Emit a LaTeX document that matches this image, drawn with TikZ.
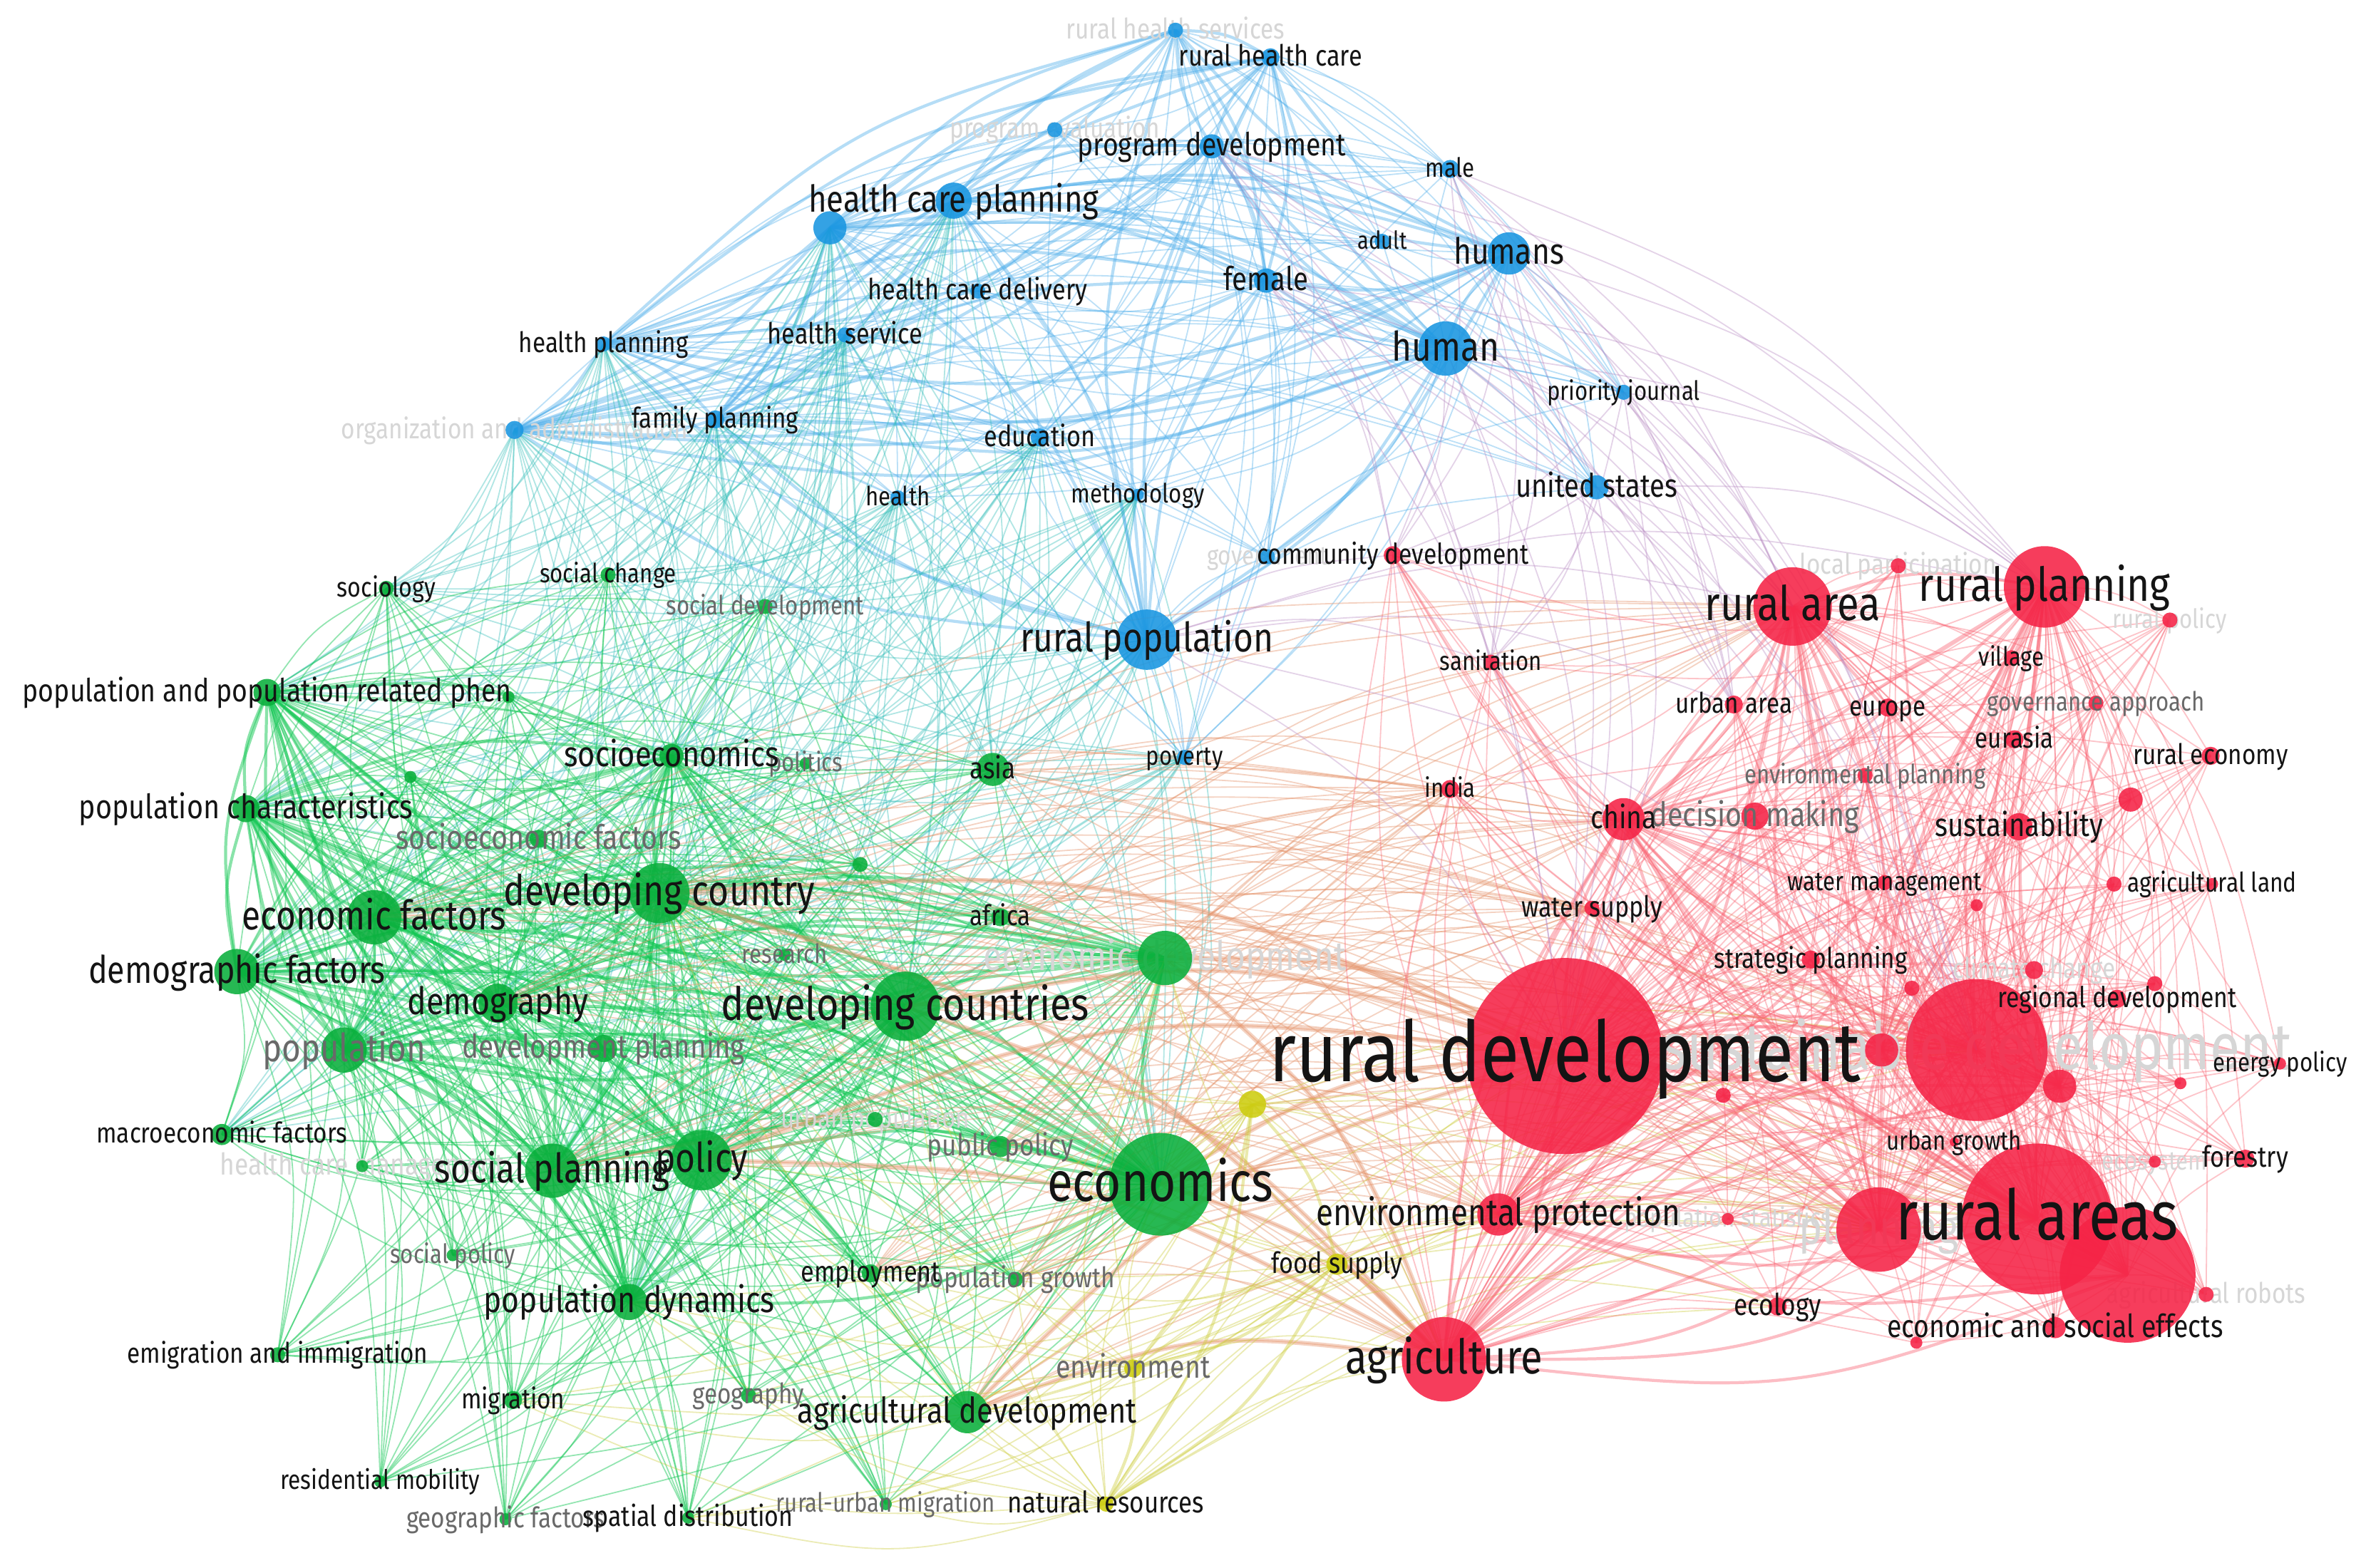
\documentclass[tikz,border=0pt]{standalone}
\usepackage{fontspec}
\setmainfont{Fira Sans}[FakeStretch=0.84]
\usetikzlibrary{calc}
\pgfdeclarelayer{bg}
\pgfdeclarelayer{edges}
\pgfdeclarelayer{flab}
\pgfdeclarelayer{labels}
\pgfsetlayers{bg,edges,flab,main,labels}
\definecolor{cb}{RGB}{25,150,225}
\definecolor{cg}{RGB}{10,175,60}
\definecolor{cy}{RGB}{205,205,15}
\definecolor{cr}{RGB}{245,35,70}
\definecolor{ebc}{RGB}{80,175,235}
\definecolor{egc}{RGB}{20,200,85}
\definecolor{etc}{RGB}{50,190,185}
\definecolor{eoc}{RGB}{230,150,110}
\definecolor{eyc}{RGB}{205,205,60}
\definecolor{erc}{RGB}{250,100,115}
\definecolor{epc}{RGB}{185,140,195}
\definecolor{lk}{RGB}{20,20,20}
\definecolor{lg}{RGB}{105,105,105}
\definecolor{lf}{RGB}{214,214,214}
\tikzset{
  kw/.style={circle,draw=none,inner sep=0pt,fill opacity=0.88},
  lab/.style={inner sep=0pt,anchor=center},
  thin/.style={line width=0.85pt,draw opacity=0.38},
  thick/.style={line width=2pt,draw opacity=0.42},
  eb/.style={thin,draw=ebc}, ebk/.style={thick,draw=ebc},
  eg/.style={thin,draw=egc,draw opacity=0.46}, egk/.style={thick,draw=egc,draw opacity=0.5},
  et/.style={thin,draw=etc},
  eo/.style={thin,draw=eoc,draw opacity=0.42}, eok/.style={thick,draw=eoc,line width=3pt},
  ey/.style={thin,draw=eyc}, eyk/.style={thick,draw=eyc},
  er/.style={thin,draw=erc}, erk/.style={thick,draw=erc},
  ep/.style={thin,draw=epc}
}
\newcommand\kw[5]{\node[kw,fill=#5,minimum size={2*#4}] (#1) at (#2,#3) {};}
\newcommand\lb[4]{\pgfmathsetmacro\fs{#2*1.17}\node[lab,text=#3,font={\fontsize{\fs}{\fs}\selectfont},text height={0.75*\fs},text depth={0.15*\fs}] (#1-l) at (#1.center) {#4};}
\newcommand\cedge[3]{\draw[#1] (#2.center) .. controls ($(#2.center)!0.5!(#3.center)!0.24!90:(#3.center)$) .. (#3.center);}
\newcommand\hubs[3]{\foreach \a in {#2}{\foreach \b in {#3}{\cedge{#1}{\a}{\b}}}}
\newcommand\pairs[2]{\foreach \a [count=\i] in {#2}{\foreach \b [count=\j] in {#2}{\ifnum\j>\i\relax\cedge{#1}{\a}{\b}\fi}}}
\begin{document}
\begin{tikzpicture}[x=1pt,y=-1pt]
\begin{pgfonlayer}{bg}
\fill[white] (0,0) rectangle (1568,1039);
\end{pgfonlayer}
\useasboundingbox (0,0) rectangle (1568,1039);
% ---------- blue cluster
\kw{rhs}{779}{20}{5}{cb}
\kw{rhc}{842}{38}{6}{cb}
\kw{pev}{699}{86}{5}{cb}
\kw{pdv}{803}{97}{8}{cb}
\kw{male}{961}{112}{6}{cb}
\kw{hcp}{632}{133}{12}{cb}
\kw{bx1}{550}{151}{11}{cb}
\kw{adult}{916}{160}{5}{cb}
\kw{humans}{1000}{168}{14}{cb}
\kw{female}{839}{186}{8}{cb}
\kw{hcd}{648}{193}{5}{cb}
\kw{hpl}{400}{228}{5}{cb}
\kw{hsv}{560}{222}{5}{cb}
\kw{human}{958}{231}{18}{cb}
\kw{prj}{1076}{260}{5}{cb}
\kw{org}{341}{285}{6}{cb}
\kw{fpl}{474}{278}{6}{cb}
\kw{edu}{689}{290}{6}{cb}
\kw{hlth}{595}{330}{5}{cb}
\kw{meth}{754}{328}{4}{cb}
\kw{us}{1058}{323}{8}{cb}
\kw{gov}{840}{369}{5}{cb}
\kw{rpop}{760}{424}{20}{cb}
\kw{pov}{785}{502}{5}{cb}
% ---------- green cluster
\kw{soc}{256}{390}{5}{cg}
\kw{sch}{403}{381}{5}{cg}
\kw{sdv}{507}{402}{5}{cg}
\kw{pprp}{177}{459}{9}{cg}
\kw{gx1}{337}{462}{4}{cg}
\kw{secs}{445}{501}{8}{cg}
\kw{polt}{534}{506}{4}{cg}
\kw{asia}{658}{510}{11}{cg}
\kw{gx2}{272}{515}{4}{cg}
\kw{pch}{163}{536}{9}{cg}
\kw{sef}{357}{556}{6}{cg}
\kw{gx3}{570}{573}{5}{cg}
\kw{dcy}{437}{592}{20}{cg}
\kw{ecf}{248}{608}{18}{cg}
\kw{afr}{663}{608}{6}{cg}
\kw{res}{520}{633}{4}{cg}
\kw{edv}{772}{635}{18}{cg}
\kw{dmf}{157}{644}{15}{cg}
\kw{dmg}{330}{665}{13}{cg}
\kw{dcs}{600}{667}{23}{cg}
\kw{pop}{228}{696}{15}{cg}
\kw{dpl}{400}{695}{9}{cg}
\kw{upop}{580}{742}{5}{cg}
\kw{pubp}{663}{760}{7}{cg}
\kw{mef}{147}{752}{7}{cg}
\kw{hcm}{240}{773}{4}{cg}
\kw{spl}{366}{776}{18}{cg}
\kw{pol}{465}{769}{20}{cg}
\kw{eco}{769}{785}{34}{cg}
\kw{spol}{300}{832}{4}{cg}
\kw{emp}{577}{844}{6}{cg}
\kw{pgr}{673}{848}{5}{cg}
\kw{pdyn}{417}{863}{12}{cg}
\kw{emig}{184}{898}{5}{cg}
\kw{mig}{340}{928}{6}{cg}
\kw{geo}{496}{925}{5}{cg}
\kw{agd}{641}{936}{14}{cg}
\kw{resm}{252}{982}{4}{cg}
\kw{gfac}{335}{1007}{4}{cg}
\kw{spd}{456}{1006}{4}{cg}
\kw{rum}{587}{997}{4}{cg}
% ---------- yellow cluster
\kw{yx1}{830}{732}{9}{cy}
\kw{food}{886}{838}{7}{cy}
\kw{env}{751}{907}{6}{cy}
\kw{natr}{733}{997}{5}{cy}
% ---------- red cluster
\kw{lpar}{1258}{375}{5}{cr}
\kw{rarea}{1188}{402}{26}{cr}
\kw{rplan}{1355}{389}{27}{cr}
\kw{rpol}{1438}{411}{5}{cr}
\kw{cdv}{923}{368}{6}{cr}
\kw{san}{988}{439}{5}{cr}
\kw{vil}{1333}{436}{5}{cr}
\kw{uarea}{1149}{467}{6}{cr}
\kw{eur}{1251}{469}{6}{cr}
\kw{gva}{1389}{466}{5}{cr}
\kw{eura}{1335}{490}{6}{cr}
\kw{reco}{1465}{501}{6}{cr}
\kw{envp}{1236}{514}{5}{cr}
\kw{ind}{961}{523}{6}{cr}
\kw{rx1}{1412}{530}{8}{cr}
\kw{chn}{1076}{543}{14}{cr}
\kw{dmk}{1163}{541}{9}{cr}
\kw{sus}{1338}{548}{9}{cr}
\kw{wman}{1249}{585}{5}{cr}
\kw{aland}{1466}{586}{4}{cr}
\kw{rx2}{1401}{586}{5}{cr}
\kw{wsup}{1055}{602}{5}{cr}
\kw{rx3}{1310}{600}{4}{cr}
\kw{strp}{1200}{636}{6}{cr}
\kw{clim}{1348}{643}{6}{cr}
\kw{rx4}{1428}{652}{5}{cr}
\kw{regd}{1403}{662}{6}{cr}
\kw{rx5}{1267}{655}{5}{cr}
\kw{sdev}{1310}{696}{47}{cr}
\kw{rdev}{1037}{700}{65}{cr}
\kw{rx6}{1247}{696}{11}{cr}
\kw{rx7}{1445}{718}{4}{cr}
\kw{rx8}{1365}{720}{11}{cr}
\kw{rx9}{1142}{726}{5}{cr}
\kw{enpol}{1511}{705}{4}{cr}
\kw{ugr}{1295}{757}{3}{cr}
\kw{ecos}{1428}{770}{4}{cr}
\kw{fore}{1488}{768}{6}{cr}
\kw{envpr}{993}{805}{14}{cr}
\kw{pstat}{1145}{808}{4}{cr}
\kw{plan}{1245}{815}{28}{cr}
\kw{rareas}{1350}{808}{50}{cr}
\kw{rx10}{1410}{845}{45}{cr}
\kw{arob}{1462}{858}{5}{cr}
\kw{ecol}{1178}{866}{6}{cr}
\kw{ese}{1362}{880}{7}{cr}
\kw{rx11}{1270}{890}{4}{cr}
\kw{agr}{957}{901}{28}{cr}
% ---------- connectors
\begin{pgfonlayer}{edges}
\hubs{eb}{hcp,bx1,human,humans,rpop,pdv,hpl,fpl,rhs,rhc,female,org}{pev,male,adult,hcd,hsv,prj,edu,hlth,meth,us,gov,pov}
\pairs{ebk}{hcp,bx1,human,humans,rpop,pdv,hpl,fpl,rhs,rhc,female,org}
\hubs{et}{org,hpl,fpl,bx1,hcp,rpop,hlth,edu,hsv,meth,pov}{soc,sch,sdv,pprp,pch,dcy,ecf,dmf,dmg,dcs,pop,pol,eco,asia,secs,mef,spl,pdyn}
\hubs{eg}{dcy,dcs,ecf,dmf,dmg,pop,spl,pol,eco,pdyn,edv,pch,pprp,secs}{soc,sch,sdv,gx1,polt,asia,gx2,sef,gx3,afr,res,dpl,upop,pubp,mef,hcm,spol,emp,pgr,emig,mig,geo,agd,resm,gfac,spd,rum}
\pairs{egk}{dcy,dcs,ecf,dmf,dmg,pop,spl,pol,eco,pdyn,edv,pch,pprp,secs}
\hubs{eo}{eco,dcs,edv,agd,pol,dcy,asia,afr,pubp,emp,pgr,ecf,dmg,spl}{rdev,agr,envpr,rareas,sdev,chn,rarea,wsup,ind,plan}
\hubs{eok}{eco,dcs,edv,agd,dcy,pol}{rdev,agr}
\hubs{ey}{yx1,food,env,natr}{agr,rdev,eco,agd,dcs,edv,envpr,spd,rum,geo,mig,pdyn,sdev,rareas,pol,dcy,emp,pgr,plan,ecol}
\pairs{eyk}{yx1,food,env,natr}
\hubs{er}{rdev,sdev,rareas,rx10,plan,rarea,rplan,agr,envpr,chn,rx6,rx8}{lpar,rpol,cdv,san,vil,uarea,eur,gva,eura,reco,envp,ind,rx1,dmk,sus,wman,aland,rx2,wsup,rx3,strp,clim,rx4,regd,rx5,rx7,rx9,enpol,ugr,ecos,fore,pstat,arob,ecol,ese,rx11}
\pairs{erk}{rdev,sdev,rareas,rx10,plan,rarea,rplan,agr,envpr,chn,rx6,rx8}
\hubs{ep}{human,humans,us,prj,rpop,female,pdv,male}{rarea,rplan,rdev,cdv,san,sdev,uarea}
\end{pgfonlayer}
% ---------- faint labels (behind the circles)
\begin{pgfonlayer}{flab}
\lb{rhs}{16}{lf}{rural health services}
\lb{pev}{16}{lf}{program evaluation}
\lb{org}{16}{lf}{organization and administration}
\lb{gov}{15}{lf}{government}
\lb{edv}{23}{lf}{economic development}
\lb{upop}{16}{lf}{urban population}
\lb{hcm}{17}{lf}{health care management}
\lb{lpar}{16}{lf}{local participation}
\lb{rpol}{15}{lf}{rural policy}
\lb{clim}{16}{lf}{climate change}
\lb{sdev}{37}{lf}{sustainable development}
\lb{ecos}{15}{lf}{ecosystem}
\lb{pstat}{15}{lf}{population statistics}
\lb{plan}{27}{lf}{planning}
\lb{arob}{16}{lf}{agricultural robots}
\end{pgfonlayer}
% ---------- labels
\begin{pgfonlayer}{labels}
\lb{sdv}{15}{lg}{social development}
\lb{polt}{15}{lg}{politics}
\lb{sef}{19}{lg}{socioeconomic factors}
\lb{res}{15}{lg}{research}
\lb{pop}{22}{lg}{population}
\lb{dpl}{18.6}{lg}{development planning}
\lb{pubp}{17}{lg}{public policy}
\lb{spol}{15}{lg}{social policy}
\lb{pgr}{16}{lg}{population growth}
\lb{geo}{16}{lg}{geography}
\lb{gfac}{16}{lg}{geographic factors}
\lb{rum}{15}{lg}{rural-urban migration}
\lb{env}{18}{lg}{environment}
\lb{gva}{15}{lg}{governance approach}
\lb{envp}{15}{lg}{environmental planning}
\lb{dmk}{19}{lg}{decision making}
\lb{rhc}{16.5}{lk}{rural health care}
\lb{pdv}{18}{lk}{program development}
\lb{male}{15}{lk}{male}
\lb{hcp}{21}{lk}{health care planning}
\lb{adult}{14}{lk}{adult}
\lb{humans}{20.5}{lk}{humans}
\lb{female}{18.5}{lk}{female}
\lb{hcd}{16.5}{lk}{health care delivery}
\lb{hpl}{16}{lk}{health planning}
\lb{hsv}{16.5}{lk}{health service}
\lb{human}{23}{lk}{human}
\lb{prj}{15}{lk}{priority journal}
\lb{fpl}{16}{lk}{family planning}
\lb{edu}{16.5}{lk}{education}
\lb{hlth}{15}{lk}{health}
\lb{meth}{15}{lk}{methodology}
\lb{us}{18.4}{lk}{united states}
\lb{rpop}{23}{lk}{rural population}
\lb{pov}{15}{lk}{poverty}
\lb{soc}{15.5}{lk}{sociology}
\lb{sch}{15}{lk}{social change}
\lb{pprp}{18}{lk}{population and population related phen}
\lb{secs}{20}{lk}{socioeconomics}
\lb{asia}{17}{lk}{asia}
\lb{pch}{19}{lk}{population characteristics}
\lb{dcy}{24}{lk}{developing country}
\lb{ecf}{23}{lk}{economic factors}
\lb{afr}{16}{lk}{africa}
\lb{dmf}{21.5}{lk}{demographic factors}
\lb{dmg}{21.5}{lk}{demography}
\lb{dcs}{26}{lk}{developing countries}
\lb{mef}{16}{lk}{macroeconomic factors}
\lb{spl}{23}{lk}{social planning}
\lb{pol}{23}{lk}{policy}
\lb{eco}{31.5}{lk}{economics}
\lb{emp}{16.5}{lk}{employment}
\lb{pdyn}{20.5}{lk}{population dynamics}
\lb{emig}{16}{lk}{emigration and immigration}
\lb{mig}{16}{lk}{migration}
\lb{agd}{20}{lk}{agricultural development}
\lb{resm}{15.2}{lk}{residential mobility}
\lb{spd}{16.3}{lk}{spatial distribution}
\lb{food}{16.5}{lk}{food supply}
\lb{natr}{16.8}{lk}{natural resources}
\lb{rarea}{27}{lk}{rural area}
\lb{rplan}{26.5}{lk}{rural planning}
\lb{cdv}{16.2}{lk}{community development}
\lb{san}{15}{lk}{sanitation}
\lb{vil}{15}{lk}{village}
\lb{uarea}{16}{lk}{urban area}
\lb{eur}{16}{lk}{europe}
\lb{eura}{16}{lk}{eurasia}
\lb{reco}{16}{lk}{rural economy}
\lb{ind}{15}{lk}{india}
\lb{chn}{18}{lk}{china}
\lb{sus}{18.5}{lk}{sustainability}
\lb{wman}{15}{lk}{water management}
\lb{aland}{15.3}{lk}{agricultural land}
\lb{wsup}{16.4}{lk}{water supply}
\lb{strp}{16}{lk}{strategic planning}
\lb{regd}{16.2}{lk}{regional development}
\lb{rdev}{47.5}{lk}{rural development}
\lb{enpol}{15}{lk}{energy policy}
\lb{ugr}{15}{lk}{urban growth}
\lb{fore}{16.5}{lk}{forestry}
\lb{envpr}{21.2}{lk}{environmental protection}
\lb{rareas}{39.3}{lk}{rural areas}
\lb{ecol}{17}{lk}{ecology}
\lb{ese}{18}{lk}{economic and social effects}
\lb{agr}{27}{lk}{agriculture}
\end{pgfonlayer}
\end{tikzpicture}
\end{document}
